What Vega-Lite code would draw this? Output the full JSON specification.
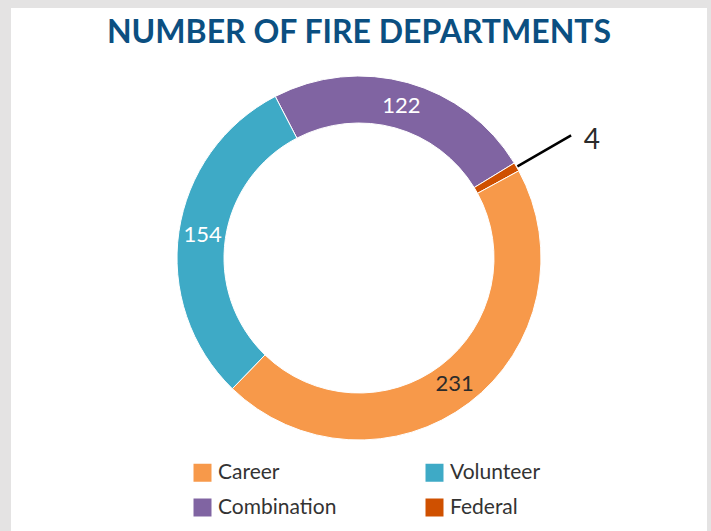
{
  "$schema": "https://vega.github.io/schema/vega-lite/v6.json",
  "width": 696,
  "height": 523,
  "autosize": "none",
  "padding": {"left": 11, "top": 8, "right": 4, "bottom": 0},
  "background": "#e4e3e3",
  "view": {"fill": "white", "stroke": null},
  "config": {"view": {"fill": "white", "stroke": null}, "font": "Lato"},
  "title": {"text": "NUMBER OF FIRE DEPARTMENTS", "color": "#0b4f81", "fontSize": 32, "fontWeight": "bold", "font": "Lato", "anchor": "middle", "offset": -44, "frame": "group"},
  "data": {"values": [
    {"cat": "Combination", "n": 122, "ord": 0},
    {"cat": "Federal", "n": 4, "ord": 1},
    {"cat": "Career", "n": 231, "ord": 2},
    {"cat": "Volunteer", "n": 154, "ord": 3}
  ]},
  "encoding": {
    "theta": {"field": "n", "type": "quantitative", "stack": true, "scale": {"range": [-0.478, 5.805]}},
    "order": {"field": "ord", "type": "quantitative"}
  },
  "layer": [
    {
      "mark": {"type": "arc", "outerRadius": 182, "innerRadius": 135, "stroke": "white", "strokeWidth": 1, "yOffset": -11.5},
      "encoding": {
        "color": {"field": "cat", "type": "nominal",
          "scale": {"domain": ["Career", "Volunteer", "Combination", "Federal"], "range": ["#f7994a", "#3eaac6", "#8064a2", "#cf5000"]},
          "legend": {"orient": "none", "direction": "horizontal", "legendX": 181, "legendY": 454, "columns": 2, "columnPadding": 87, "rowPadding": 13, "title": null, "symbolType": "square", "symbolSize": 324, "symbolStrokeWidth": 0, "symbolOpacity": 1, "labelFontSize": 21, "labelColor": "#333333", "labelOffset": 5, "labelFont": "Lato"}}
      }
    },
    {
      "mark": {"type": "text", "radius": 158, "fontSize": 22, "yOffset": -11.5, "font": "Lato"},
      "encoding": {
        "text": {"condition": {"test": "datum.cat != 'Federal'", "field": "n", "type": "quantitative"}, "value": ""},
        "color": {"condition": {"test": "datum.cat == 'Career'", "value": "#2b2b2b"}, "value": "white"}
      }
    },
    {
      "mark": {"type": "arc", "radius": 245, "radius2": 183, "padAngle": 0.12, "fill": null, "stroke": "black", "strokeWidth": 2.5, "yOffset": -11.5},
      "encoding": {
        "strokeOpacity": {"condition": {"test": "datum.cat == 'Federal'", "value": 1}, "value": 0}
      }
    },
    {
      "mark": {"type": "text", "radius": 262, "fontSize": 28, "yOffset": -11.5, "dx": 6, "dy": 14, "color": "#2b2b2b", "font": "Lato"},
      "encoding": {
        "text": {"condition": {"test": "datum.cat == 'Federal'", "field": "n", "type": "quantitative"}, "value": ""}
      }
    }
  ]
}
